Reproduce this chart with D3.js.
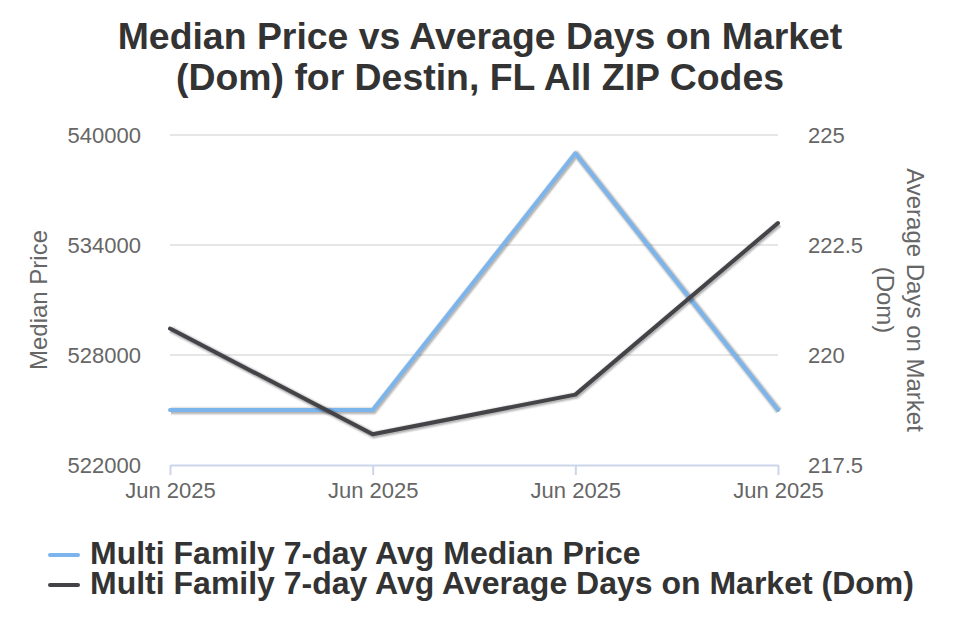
<!DOCTYPE html>
<html>
<head>
<meta charset="utf-8">
<script src="https://cdn.jsdelivr.net/npm/d3@7"></script>
<style>
  body { margin: 0; background: #fff; }
  text { font-family: "Liberation Sans", Arial, sans-serif; }
</style>
</head>
<body>
<div id="chart"></div>
<script>
const width = 960;
const height = 640;

// chart data
const dates = ["Jun 2025", "Jun 2025", "Jun 2025", "Jun 2025"];
const medianPrice = [525000, 525000, 539000, 525000];
const avgDom = [220.6, 218.2, 219.1, 223.0];
const priceTicks = [522000, 528000, 534000, 540000];
const domTicks = [217.5, 220, 222.5, 225];
const seriesNames = ["Multi Family 7-day Avg Median Price", "Multi Family 7-day Avg Average Days on Market (Dom)"];
const colors = ["#7cb5ec", "#434348"];

const margin = { top: 135, right: 182, bottom: 175, left: 170 };
const innerW = width - margin.left - margin.right;
const innerH = height - margin.top - margin.bottom;

const svg = d3.select("#chart").append("svg")
  .attr("width", width)
  .attr("height", height);

// title
svg.append("text")
  .attr("x", width / 2).attr("y", 49)
  .attr("text-anchor", "middle")
  .attr("font-size", 37.4).attr("font-weight", "bold").attr("fill", "#333")
  .selectAll("tspan")
  .data(["Median Price vs Average Days on Market", "(Dom) for Destin, FL All ZIP Codes"])
  .join("tspan")
  .attr("x", width / 2)
  .attr("dy", (d, i) => i ? 41 : 0)
  .text(d => d);

const x = d3.scalePoint()
  .domain(d3.range(dates.length))
  .range([0, innerW]);
const yLeft = d3.scaleLinear().domain([522000, 540000]).range([innerH, 0]);
const yRight = d3.scaleLinear().domain([217.5, 225]).range([innerH, 0]);

const g = svg.append("g").attr("transform", `translate(${margin.left},${margin.top})`);

// grid lines
g.append("g")
  .selectAll("line")
  .data(priceTicks.slice(1))
  .join("line")
  .attr("x1", 0).attr("x2", innerW)
  .attr("y1", d => yLeft(d)).attr("y2", d => yLeft(d))
  .attr("stroke", "#e6e6e6").attr("stroke-width", 2);

// x axis
const xAxis = g.append("g")
  .attr("transform", `translate(0,${innerH})`)
  .call(d3.axisBottom(x).tickSize(10).tickSizeOuter(0).tickPadding(7).tickFormat(i => dates[i]));
xAxis.select(".domain").attr("stroke", "#ccd6eb").attr("stroke-width", 2);
xAxis.selectAll(".tick line").attr("stroke", "#ccd6eb").attr("stroke-width", 2);
xAxis.selectAll("text").attr("font-size", 22).attr("fill", "#666")
  .attr("font-family", "Liberation Sans, Arial, sans-serif");

// left axis
const leftAxis = g.append("g")
  .call(d3.axisLeft(yLeft).tickValues(priceTicks).tickSize(0).tickPadding(29).tickFormat(d3.format("d")));
leftAxis.select(".domain").remove();
leftAxis.selectAll("text").attr("font-size", 22).attr("fill", "#666")
  .attr("font-family", "Liberation Sans, Arial, sans-serif");

// right axis
const rightAxis = g.append("g")
  .attr("transform", `translate(${innerW},0)`)
  .call(d3.axisRight(yRight).tickValues(domTicks).tickSize(0).tickPadding(30).tickFormat(d3.format("")));
rightAxis.select(".domain").remove();
rightAxis.selectAll("text").attr("font-size", 22).attr("fill", "#666")
  .attr("font-family", "Liberation Sans, Arial, sans-serif");

// axis titles
svg.append("text")
  .attr("transform", `translate(47,${margin.top + innerH / 2}) rotate(-90)`)
  .attr("text-anchor", "middle")
  .attr("font-size", 24).attr("fill", "#666")
  .text("Median Price");

const rt = svg.append("text")
  .attr("transform", `translate(907,${margin.top + innerH / 2}) rotate(90)`)
  .attr("text-anchor", "middle")
  .attr("font-size", 24).attr("fill", "#666");
rt.append("tspan").attr("x", 0).attr("dy", 0).text("Average Days on Market");
rt.append("tspan").attr("x", 0).attr("dy", 30).text("(Dom)");

// lines
const priceLine = d3.line().x((d, i) => x(i)).y(d => yLeft(d));
const domLine = d3.line().x((d, i) => x(i)).y(d => yRight(d));

const series = [
  { path: priceLine(medianPrice), color: colors[0] },
  { path: domLine(avgDom), color: colors[1] }
];

series.forEach(s => {
  [[5, 0.05], [3, 0.1], [1, 0.15]].forEach(([w, o]) => {
    g.append("path")
      .attr("d", s.path)
      .attr("transform", "translate(1,1)")
      .attr("fill", "none")
      .attr("stroke", "#000")
      .attr("stroke-opacity", o)
      .attr("stroke-width", 4 + w)
      .attr("stroke-linejoin", "round");
  });
  g.append("path")
    .attr("d", s.path)
    .attr("fill", "none")
    .attr("stroke", s.color)
    .attr("stroke-width", 4)
    .attr("stroke-linejoin", "round")
    .attr("stroke-linecap", "round");
});

// legend
const legend = svg.append("g").attr("transform", "translate(50,555)");
const items = legend.selectAll("g")
  .data(seriesNames)
  .join("g")
  .attr("transform", (d, i) => `translate(0,${i * 30})`);
items.append("line")
  .attr("x1", 0).attr("x2", 28).attr("y1", 0).attr("y2", 0)
  .attr("stroke", (d, i) => colors[i])
  .attr("stroke-width", 4)
  .attr("stroke-linecap", "round");
items.append("text")
  .attr("x", 40).attr("y", 9)
  .attr("font-size", 32).attr("font-weight", "bold").attr("fill", "#333")
  .text(d => d);
</script>
</body>
</html>
